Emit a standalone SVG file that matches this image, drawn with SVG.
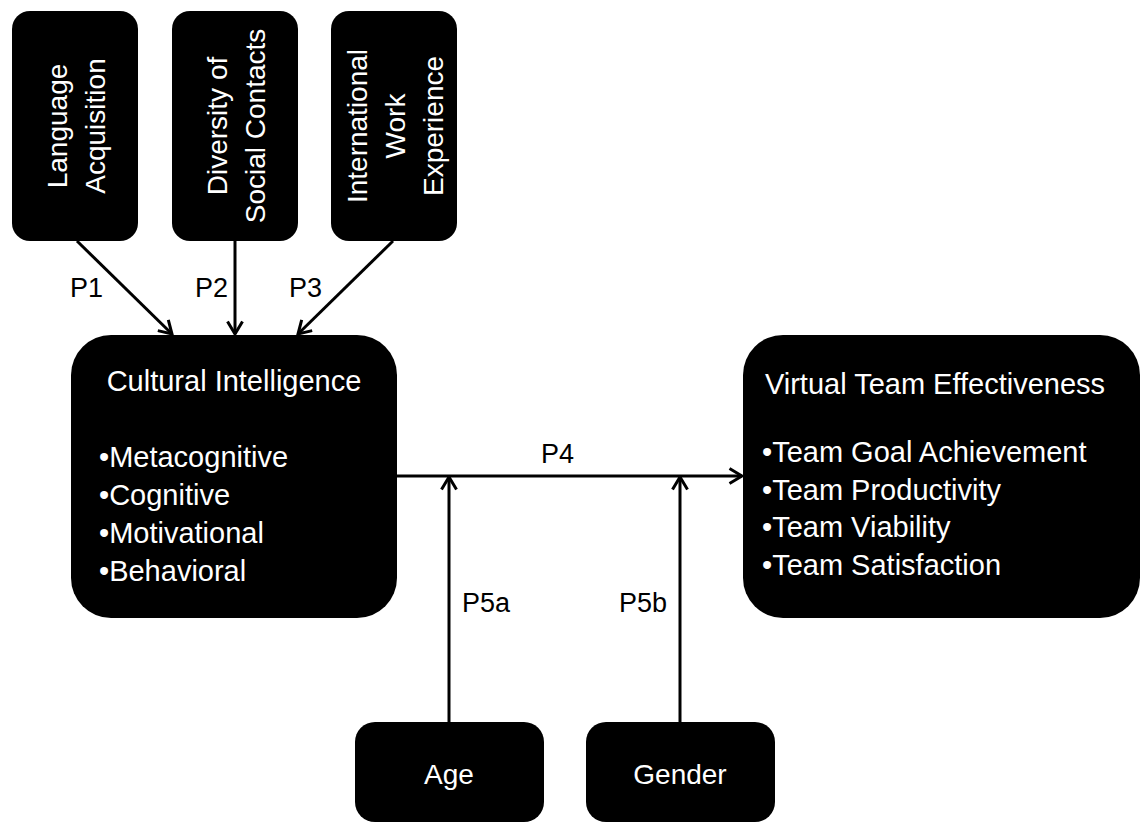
<svg xmlns="http://www.w3.org/2000/svg" width="1141" height="825" viewBox="0 0 1141 825">
<defs>
<style>
.box{fill:#000;}
.t{font-family:"Liberation Sans",Arial,sans-serif;fill:#fff;}
.c{text-anchor:middle;}
.lbl{font-family:"Liberation Sans",Arial,sans-serif;fill:#000;font-size:27px;}
.edge{stroke:#000;stroke-width:3;fill:none;marker-end:url(#ah);}
</style>
<marker id="ah" markerUnits="userSpaceOnUse" markerWidth="16" markerHeight="18" viewBox="0 0 16 18" refX="14" refY="9" orient="auto">
<path d="M1.5,1.5 L14,9 L1.5,16.5" fill="none" stroke="#000" stroke-width="3" stroke-linejoin="miter"/>
</marker>
</defs>
<rect width="1141" height="825" fill="#fff"/>
<g id="connectors">
<line class="edge" x1="77" y1="241" x2="172" y2="334"/>
<line class="edge" x1="235" y1="241" x2="235" y2="334"/>
<line class="edge" x1="393" y1="241" x2="298" y2="334"/>
<line class="edge" x1="397" y1="476" x2="742" y2="476"/>
<line class="edge" x1="449" y1="722" x2="449" y2="477"/>
<line class="edge" x1="680" y1="722" x2="680" y2="477"/>
<text class="lbl" x="70" y="297">P1</text>
<text class="lbl" x="195" y="297">P2</text>
<text class="lbl" x="289" y="297">P3</text>
<text class="lbl" x="541" y="463">P4</text>
<text class="lbl" x="462" y="612">P5a</text>
<text class="lbl" x="619" y="612">P5b</text>
</g>
<g id="language">
<rect class="box" x="12" y="11" width="126" height="230" rx="18"/>
<g transform="translate(75,126) rotate(-90)">
<text class="t c" font-size="28" x="0" y="-8">Language</text>
<text class="t c" font-size="28" x="0" y="30">Acquisition</text>
</g>
</g>
<g id="diversity">
<rect class="box" x="172" y="11" width="126" height="230" rx="18"/>
<g transform="translate(235,126) rotate(-90)">
<text class="t c" font-size="28" x="0" y="-8">Diversity of</text>
<text class="t c" font-size="28" x="0" y="30">Social Contacts</text>
</g>
</g>
<g id="international">
<rect class="box" x="331" y="11" width="126" height="230" rx="18"/>
<g transform="translate(394,126) rotate(-90)">
<text class="t c" font-size="28" x="0" y="-27">International</text>
<text class="t c" font-size="28" x="0" y="11">Work</text>
<text class="t c" font-size="28" x="0" y="49">Experience</text>
</g>
</g>
<g id="cultural">
<rect class="box" x="71" y="335" width="326" height="283" rx="40"/>
<text class="t c" font-size="29" x="234" y="391">Cultural Intelligence</text>
<text class="t" font-size="29" x="99" y="467">•Metacognitive</text>
<text class="t" font-size="29" x="99" y="505">•Cognitive</text>
<text class="t" font-size="29" x="99" y="543">•Motivational</text>
<text class="t" font-size="29" x="99" y="581">•Behavioral</text>
</g>
<g id="virtual">
<rect class="box" x="743" y="335" width="397" height="283" rx="40"/>
<text class="t c" font-size="29" x="935" y="394">Virtual Team Effectiveness</text>
<text class="t" font-size="29" x="762" y="462">•Team Goal Achievement</text>
<text class="t" font-size="29" x="762" y="500">•Team Productivity</text>
<text class="t" font-size="29" x="762" y="537">•Team Viability</text>
<text class="t" font-size="29" x="762" y="575">•Team Satisfaction</text>
</g>
<g id="age">
<rect class="box" x="355" y="722" width="189" height="100" rx="20"/>
<text class="t c" font-size="28" x="449" y="784">Age</text>
</g>
<g id="gender">
<rect class="box" x="586" y="722" width="189" height="100" rx="20"/>
<text class="t c" font-size="28" x="680" y="784">Gender</text>
</g>
</svg>
